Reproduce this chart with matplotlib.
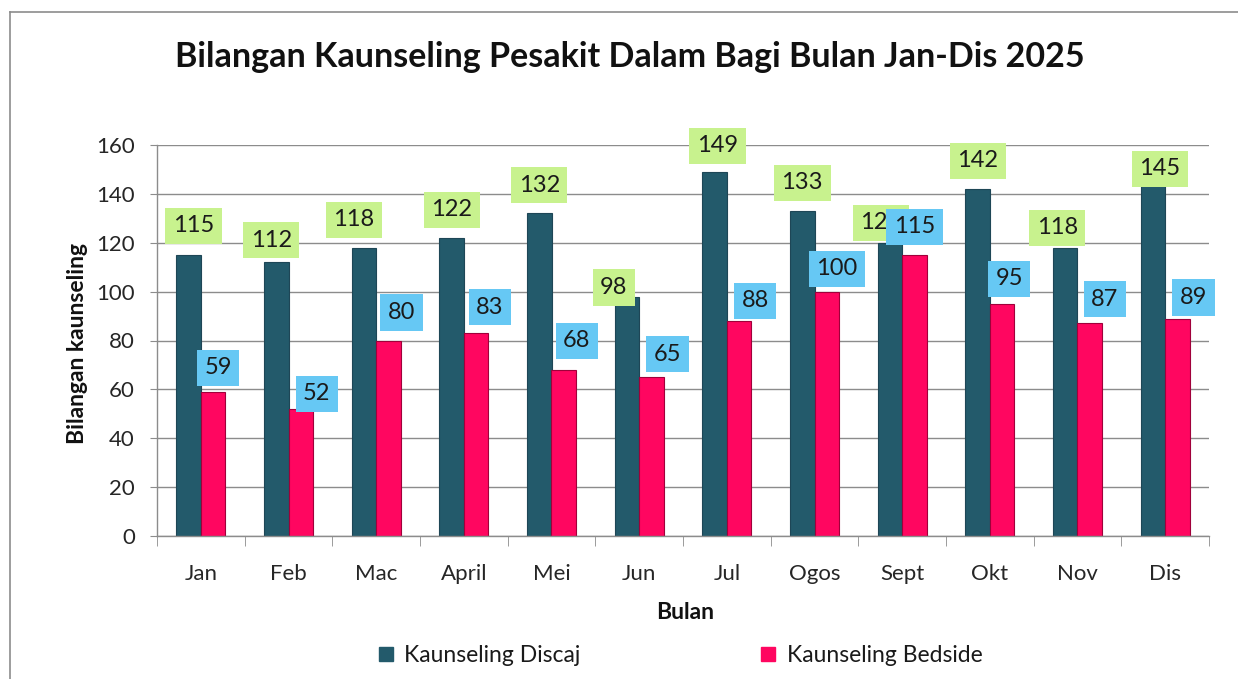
import matplotlib
matplotlib.use("Agg")
import matplotlib.pyplot as plt
from matplotlib.lines import Line2D
import numpy as np

plt.rcParams['font.family'] = ['Lato', 'DejaVu Sans']

# data bulanan
bulan = ['Jan', 'Feb', 'Mac', 'April', 'Mei', 'Jun', 'Jul', 'Ogos', 'Sept', 'Okt', 'Nov', 'Dis']
discaj = [115, 112, 118, 122, 132, 98, 149, 133, 120, 142, 118, 145]
bedside = [59, 52, 80, 83, 68, 65, 88, 100, 115, 95, 87, 89]

# kedudukan label yang dialih secara manual (piksel dari hujung bar)
gerak_discaj = [(5, 29), (-5, 22), (-10, 28), (0, 28), (0, 28), (-13, 9),
                (3, 26), (0, 28), (-9, 20), (0, 28), (-8, 20), (7, 13)]
gerak_bedside = [(5, 24), (16, 15), (13, 28), (14, 26), (13, 29), (16, 23),
                 (16, 20), (10, 23), (0, 28), (7, 25), (15, 24), (16, 21)]

warna_discaj = '#235A6B'
warna_bedside = '#FF0660'
label_discaj = '#C8F28E'
label_bedside = '#66C8F4'
kelabu = '#8C8C8C'

fig = plt.figure(figsize=(12.38, 6.79), dpi=100)
ax = fig.add_axes([157 / 1238, 1 - 536 / 679, 1052 / 1238, 391 / 679])

x = np.arange(len(bulan))
lebar = 0.28
b1 = ax.bar(x - lebar / 2, discaj, lebar, color=warna_discaj, edgecolor='#1E4656',
            linewidth=0.8, label='Kaunseling Discaj', zorder=2)
b2 = ax.bar(x + lebar / 2, bedside, lebar, color=warna_bedside, edgecolor='#A0003A',
            linewidth=0.8, label='Kaunseling Bedside', zorder=2)

ax.set_ylim(0, 160)
ax.set_xlim(-0.5, len(bulan) - 0.5)
ax.set_yticks(np.arange(0, 161, 20))
ax.yaxis.grid(True, color=kelabu, linewidth=1.0, zorder=0)
ax.set_axisbelow(True)

ax.set_xticks(x)
ax.set_xticklabels(bulan, fontsize=16, color='#262626')
ax.set_xticks(np.arange(-0.5, len(bulan)), minor=True)
ax.tick_params(axis='x', which='major', length=0, pad=20)
ax.tick_params(axis='x', which='minor', length=7, color=kelabu)
ax.tick_params(axis='y', length=5, color=kelabu, labelsize=16, labelcolor='#262626', pad=11)

for s in ['top', 'right']:
    ax.spines[s].set_visible(False)
for s in ['left', 'bottom']:
    ax.spines[s].set_color(kelabu)
    ax.spines[s].set_linewidth(1.0)

ax.set_xlabel('Bulan', fontsize=16.5, fontweight='bold', color='#111111')
ax.xaxis.set_label_coords(0.502, -0.168)
ax.set_ylabel('Bilangan kaunseling', fontsize=16.5, fontweight='bold', color='#111111')
ax.yaxis.set_label_coords(-0.066, 0.492)

# label nilai atas setiap bar
def letak_label(bars, nilai, gerak, warna, z):
    for b, v, (dx, dy) in zip(bars, nilai, gerak):
        ax.annotate(str(v), (b.get_x() + b.get_width() / 2, v),
                    xytext=(dx, dy), textcoords='offset pixels',
                    ha='center', va='center', fontsize=17, color='#1A1A1A',
                    zorder=z, annotation_clip=False,
                    bbox=dict(boxstyle='square,pad=0.32', fc=warna, ec='none'))

letak_label(b1, discaj, gerak_discaj, label_discaj, 5)
letak_label(b2, bedside, gerak_bedside, label_bedside, 6)

fig.text(0.509, 0.916, 'Bilangan Kaunseling Pesakit Dalam Bagi Bulan Jan-Dis 2025',
         ha='center', va='center', fontsize=24.5, fontweight='bold', color='#111111')

# legenda di bawah
h1 = Line2D([], [], marker='s', linestyle='none', markersize=9.5, color=warna_discaj)
h2 = Line2D([], [], marker='s', linestyle='none', markersize=9.5, color=warna_bedside)
fig.legend([h1, h2], ['Kaunseling Discaj', 'Kaunseling Bedside'], loc='center',
           bbox_to_anchor=(0.547, 0.035), ncol=2, frameon=False, fontsize=16.5,
           labelcolor='#1A1A1A', handletextpad=0.2, columnspacing=7.6, handlelength=1.2)

# bingkai carta
fig.add_artist(Line2D([10 / 1238, 10 / 1238], [0, 1 - 12 / 679],
                      transform=fig.transFigure, color=kelabu, linewidth=1.2))
fig.add_artist(Line2D([10 / 1238, 1], [1 - 12 / 679, 1 - 12 / 679],
                      transform=fig.transFigure, color=kelabu, linewidth=1.2))

fig.savefig('out.png', dpi=100, facecolor='white')
